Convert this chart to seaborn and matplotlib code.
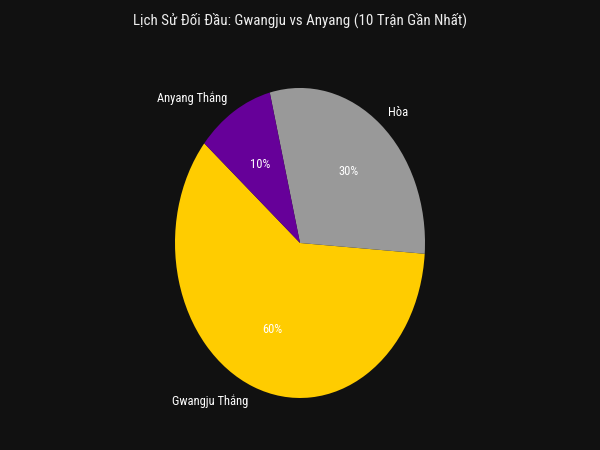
import matplotlib
matplotlib.use("Agg")
import matplotlib.pyplot as plt
import seaborn as sns

# Head-to-head results, last 10 matches
labels = ["Gwangju Thắng", "Hòa", "Anyang Thắng"]
shares = [60, 30, 10]
colors = ["#FFCC00", "#999999", "#660099"]
title = "Lịch Sử Đối Đầu: Gwangju vs Anyang (10 Trận Gần Nhất)"

sns.set_theme(style="dark")
plt.rcParams["font.family"] = ["Roboto Condensed", "DejaVu Sans"]

bg = "#111111"
fig = plt.figure(figsize=(6, 4.5), dpi=100, facecolor=bg)
ax = fig.add_axes([0.1875, 0.0467, 0.625, 0.8267])
ax.set_facecolor(bg)

wedges, texts, autotexts = ax.pie(
    shares,
    labels=labels,
    colors=colors,
    autopct="%1.0f%%",
    startangle=140,
    wedgeprops={"linewidth": 0},
    textprops={"color": "white", "fontsize": 9},
)
ax.set_aspect("auto")
ax.set_xlim(-1.5, 1.5)
ax.set_ylim(-1.2, 1.2)
ax.axis("off")

fig.suptitle(title, color="#eeeeee", fontsize=10.8, y=0.973)

fig.savefig("out.png", dpi=100, facecolor=bg)
